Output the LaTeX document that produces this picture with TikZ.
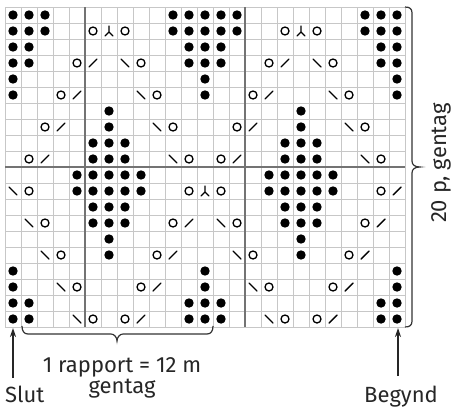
\documentclass[tikz,border=0pt]{standalone}
\usepackage{fontspec}
\setmainfont{Fira Sans}
\usetikzlibrary{arrows.meta}
\begin{document}
\begin{tikzpicture}[x=1pt,y=-1pt,
  thin grid/.style={draw=black!22, line width=0.8pt},
  heavy grid/.style={draw=black!55, line width=1.5pt},
  knit dot/.style={fill=black},
  yarn over/.style={draw=black, line width=1.3pt},
  dec line/.style={draw=black, line width=1.4pt, line cap=round},
  brace line/.style={draw=black!80, line width=1.2pt},
  arrow line/.style={draw=black!85, line width=1.4pt, -{Stealth[length=9pt,width=6pt]}},
  label text/.style={font=\fontsize{22}{26}\selectfont, inner sep=0pt, text=black!85}]
\useasboundingbox (0,0) rectangle (452,407);
% grid
\foreach \i in {0,...,25} \draw[thin grid] ({5+16*\i},7) -- ({5+16*\i},327);
\foreach \j in {0,...,20} \draw[thin grid] (5,{7+16*\j}) -- (405,{7+16*\j});
\draw[heavy grid] (85,7) -- (85,327);
\draw[heavy grid] (245,7) -- (245,327);
\draw[heavy grid] (5,167) -- (405,167);
% dots
\foreach \r/\cols in {1/{1,2,3,11,12,13,14,15,23,24,25},2/{1,2,3,11,12,13,14,15,23,24,25},
  3/{1,2,12,13,14,24,25},4/{1,2,12,13,14,24,25},5/{1,13,25},6/{1,13,25},7/{7,19},8/{7,19},
  9/{6,7,8,18,19,20},10/{6,7,8,18,19,20},11/{5,6,7,8,9,17,18,19,20,21},12/{5,6,7,8,9,17,18,19,20,21},
  13/{6,7,8,18,19,20},14/{6,7,8,18,19,20},15/{7,19},16/{7,19},17/{1,13,25},18/{1,13,25},
  19/{1,2,12,13,14,24,25},20/{1,2,12,13,14,24,25}}
  \foreach \c in \cols \fill[knit dot] ({16*\c-3},{16*\r-1}) circle (4.7);
% yarn overs
\foreach \r/\cols in {2/{6,8,18,20},4/{5,9,17,21},6/{4,10,16,22},8/{3,11,15,23},10/{2,12,14,24},
  12/{2,12,14,24},14/{3,11,15,23},16/{4,10,16,22},18/{5,9,17,21},20/{6,8,18,20}}
  \foreach \c in \cols \draw[yarn over] ({16*\c-3},{16*\r-1}) circle (4.0);
% right-leaning decreases /
\foreach \r/\cols in {4/{6,18},6/{5,17},8/{4,16},10/{3,15},12/{25},14/{12,24},16/{11,23},18/{10,22},20/{9,21}}
  \foreach \c in \cols \draw[dec line] ({16*\c-7},{16*\r+3}) -- ({16*\c+1},{16*\r-5});
% left-leaning decreases \
\foreach \r/\cols in {4/{8,20},6/{9,21},8/{10,22},10/{11,23},12/{1},14/{2,14},16/{3,15},18/{4,16},20/{5,17}}
  \foreach \c in \cols \draw[dec line] ({16*\c-7},{16*\r-5}) -- ({16*\c+1},{16*\r+3});
% double decreases
\foreach \r/\c in {2/7,2/19,12/13}
  \draw[dec line, line width=1.1pt] ({16*\c-3},{16*\r-6}) -- ({16*\c-3},{16*\r})
     ({16*\c-7},{16*\r+4}) -- ({16*\c-3},{16*\r}) -- ({16*\c+1},{16*\r+4});
% right brace
\coordinate (rbtop) at (405,7);
\coordinate (rbbot) at (405,327);
\coordinate (rbtip) at (420,167);
\draw[brace line] (rbtop) .. controls (410,7) and (412,9) .. (412,13) -- (412,161)
  .. controls (412,165) and (415,167) .. (rbtip)
  .. controls (415,167) and (412,169) .. (412,173) -- (412,321)
  .. controls (412,325) and (410,327) .. (rbbot);
\node[label text, rotate=90, anchor=base] (rep) at (446,163) {20 p, gentag};
% bottom brace
\coordinate (bbl) at (22,326);
\coordinate (bbr) at (213,326);
\coordinate (bbtip) at (117,341);
\draw[brace line] (bbl) .. controls (22,331) and (24,334) .. (28,334) -- (111,334)
  .. controls (114,334) and (117,337) .. (bbtip)
  .. controls (117,337) and (120,334) .. (123,334) -- (207,334)
  .. controls (211,334) and (213,331) .. (bbr);
\node[label text, anchor=base] (rapport) at (122,372) {1 rapport = 12 m};
\node[label text, anchor=base] (gentag) at (122,393) {gentag};
% arrows
\node[label text, anchor=base west] (slut) at (5,402) {Slut};
\node[label text, anchor=base] (begynd) at (401,402) {Begynd};
\coordinate (slutfrom) at (13,378);
\coordinate (slutto) at (13,328);
\coordinate (begfrom) at (398,376);
\coordinate (begto) at (398,328);
\draw[arrow line] (slutfrom) -- (slutto);
\draw[arrow line] (begfrom) -- (begto);
\end{tikzpicture}
\end{document}
